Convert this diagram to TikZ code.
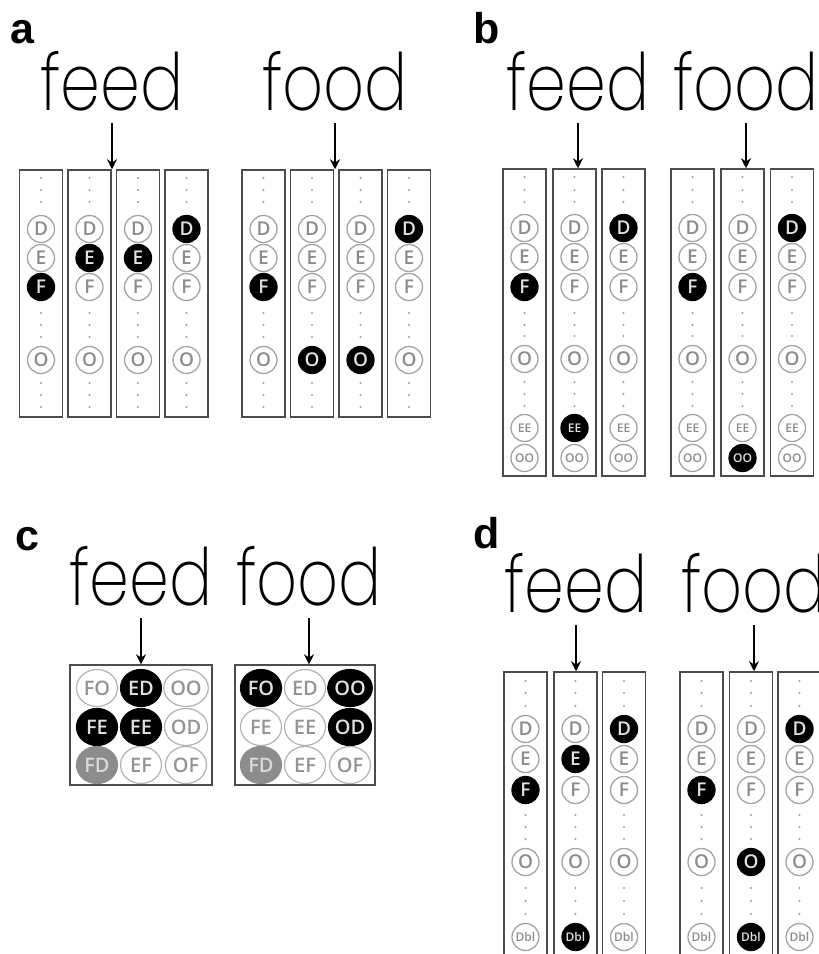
\documentclass[tikz,border=0pt]{standalone}
\usepackage{fontspec}
\usetikzlibrary{arrows.meta,shapes.geometric}
\IfFontExistsTF{Poppins ExtraLight}{\newfontfamily\wordfont{Poppins ExtraLight}}{%
  \IfFontExistsTF{Poppins Light}{\newfontfamily\wordfont{Poppins Light}}{\newfontfamily\wordfont{Poppins}}}
\IfFontExistsTF{Open Sans SemiBold}{\newfontfamily\circfont{Open Sans SemiBold}}{%
  \IfFontExistsTF{Open Sans Semibold}{\newfontfamily\circfont{Open Sans Semibold}}{\newfontfamily\circfont{Open Sans}}}
\newfontfamily\panelfont{Liberation Sans}

\newcommand\wordtext[1]{\scalebox{0.84}[1.04]{#1}}

\tikzset{
  colbox/.style={draw=black!70, line width=1.5pt, inner sep=0pt, minimum width=43pt},
  ltr/.style={circle, draw=black!36, line width=1.3pt, minimum size=27pt, inner sep=0pt,
    text=black!45, font=\circfont\fontsize{19}{19}\selectfont},
  tiny/.style={font=\circfont\fontsize{12}{12}\selectfont},
  on/.style={fill=black, draw=black, text=white!88!black},
  pair/.style={ellipse, draw=black!30, line width=1.2pt, minimum width=41pt, minimum height=37pt,
    inner sep=0pt, text=black!42, font=\circfont\fontsize{20}{20}\selectfont},
  half/.style={fill=black!45, draw=black!45, text=white!85!black},
  word/.style={anchor=base, inner sep=0pt, font=\wordfont\fontsize{76}{76}\selectfont},
  panel/.style={anchor=base west, inner sep=0pt, font=\panelfont\bfseries\fontsize{43}{43}\selectfont},
  pointer/.style={-{Stealth[length=10pt,width=10pt]}, line width=1.8pt},
  dotc/.style={fill=black!38},
}

% one unit column of panel a: name, x, styles of D E F O
\newcommand\acol[6]{%
  \node[colbox, minimum height=247pt] (#1) at (#2,293.5) {};
  \foreach \yy in {178,190,202,313,325,337,383,395,407} \fill[dotc] (#2,\yy) circle (1.1pt);
  \node[ltr,#3] (#1-D) at (#2,229) {D};
  \node[ltr,#4] (#1-E) at (#2,258) {E};
  \node[ltr,#5] (#1-F) at (#2,287) {F};
  \node[ltr,#6] (#1-O) at (#2,360) {O};
}
% panel b column: name, x, styles of D E F O EE OO
\newcommand\bcol[8]{%
  \node[colbox, minimum height=307pt] (#1) at (#2,322.5) {};
  \foreach \yy in {177,190,202,313,325,336,382,394,406} \fill[dotc] (#2,\yy) circle (1.1pt);
  \node[ltr,#3] (#1-D) at (#2,228) {D};
  \node[ltr,#4] (#1-E) at (#2,257) {E};
  \node[ltr,#5] (#1-F) at (#2,287) {F};
  \node[ltr,#6] (#1-O) at (#2,359) {O};
  \node[ltr,tiny,#7] (#1-EE) at (#2,428) {EE};
  \node[ltr,tiny,#8] (#1-OO) at (#2,458) {OO};
}
% panel d column: name, x, styles of D E F O Dbl
\newcommand\dcol[7]{%
  \node[colbox, minimum height=300pt] (#1) at (#2,822) {};
  \foreach \yy in {681,693,706,815,827,839,888,901,914} \fill[dotc] (#2,\yy) circle (1.1pt);
  \node[ltr,#3] (#1-D) at (#2,729) {D};
  \node[ltr,#4] (#1-E) at (#2,759) {E};
  \node[ltr,#5] (#1-F) at (#2,790) {F};
  \node[ltr,#6] (#1-O) at (#2,862) {O};
  \node[ltr,tiny,#7] (#1-Dbl) at (#2,937) {Dbl};
}

\begin{document}
\begin{tikzpicture}[x=1pt,y=-1pt]
\useasboundingbox (0,0) rectangle (819,954);

% ---------- panel a ----------
\node[panel] (la) at (10,43) {a};
\node[word] (wa1) at (112,110) {\wordtext{feed}};
\node[word] (wa2) at (335,110) {\wordtext{food}};
\acol{a1}{41}{}{}{on}{}
\acol{a2}{89.5}{}{on}{}{}
\acol{a3}{138}{}{on}{}{}
\acol{a4}{186.5}{on}{}{}{}
\acol{a5}{263.5}{}{}{on}{}
\acol{a6}{312}{}{}{}{on}
\acol{a7}{360.5}{}{}{}{on}
\acol{a8}{409}{on}{}{}{}
\draw[pointer] ([yshift=-13pt]wa1.base) -- (wa1.base |- a2.north);
\draw[pointer] ([yshift=-13pt]wa2.base) -- (wa2.base |- a6.north);

% ---------- panel b ----------
\node[panel] (lb) at (473,43) {b};
\node[word] (wb1) at (578,110) {\wordtext{feed}};
\node[word] (wb2) at (746,110) {\wordtext{food}};
\bcol{b1}{524.5}{}{}{on}{}{}{}
\bcol{b2}{574.5}{}{}{}{}{on}{}
\bcol{b3}{623.5}{on}{}{}{}{}{}
\bcol{b4}{692.5}{}{}{on}{}{}{}
\bcol{b5}{742.5}{}{}{}{}{}{on}
\bcol{b6}{792}{on}{}{}{}{}{}
\draw[pointer] ([yshift=-13pt]wb1.base) -- (wb1.base |- b2.north);
\draw[pointer] ([yshift=-13pt]wb2.base) -- (wb2.base |- b5.north);

% ---------- panel c ----------
\node[panel] (lc) at (15,550) {c};
\node[word] (wc1) at (141,605) {\wordtext{feed}};
\node[word] (wc2) at (309,605) {\wordtext{food}};
\node[colbox, minimum width=142pt, minimum height=120pt] (c1) at (141,725) {};
\node[colbox, minimum width=140pt, minimum height=120pt] (c2) at (305,725) {};
\node[pair]     (c1-FO) at (97,688)  {FO};
\node[pair,on]  (c1-ED) at (141,688) {ED};
\node[pair]     (c1-OO) at (186,688) {OO};
\node[pair,on]  (c1-FE) at (97,727)  {FE};
\node[pair,on]  (c1-EE) at (141,727) {EE};
\node[pair]     (c1-OD) at (186,727) {OD};
\node[pair,half](c1-FD) at (97,765)  {FD};
\node[pair]     (c1-EF) at (141,765) {EF};
\node[pair]     (c1-OF) at (186,765) {OF};
\node[pair,on]  (c2-FO) at (261,688) {FO};
\node[pair]     (c2-ED) at (305,688) {ED};
\node[pair,on]  (c2-OO) at (350,688) {OO};
\node[pair]     (c2-FE) at (261,727) {FE};
\node[pair]     (c2-EE) at (305,727) {EE};
\node[pair,on]  (c2-OD) at (350,727) {OD};
\node[pair,half](c2-FD) at (261,765) {FD};
\node[pair]     (c2-EF) at (305,765) {EF};
\node[pair]     (c2-OF) at (350,765) {OF};
\draw[pointer] ([yshift=-13pt]wc1.base) -- (wc1.base |- c1.north);
\draw[pointer] ([yshift=-13pt]wc2.base) -- (wc2.base |- c2.north);

% ---------- panel d ----------
\node[panel] (ld) at (473,548) {d};
\node[word] (wd1) at (576,612) {\wordtext{feed}};
\node[word] (wd2) at (754,612) {\wordtext{food}};
\dcol{d1}{525.5}{}{}{on}{}{}
\dcol{d2}{575.5}{}{on}{}{}{on}
\dcol{d3}{624}{on}{}{}{}{}
\dcol{d4}{701.5}{}{}{on}{}{}
\dcol{d5}{751}{}{}{}{on}{on}
\dcol{d6}{799.5}{on}{}{}{}{}
\draw[pointer] ([yshift=-13pt]wd1.base) -- (wd1.base |- d2.north);
\draw[pointer] ([yshift=-13pt]wd2.base) -- (wd2.base |- d5.north);
\end{tikzpicture}
\end{document}
